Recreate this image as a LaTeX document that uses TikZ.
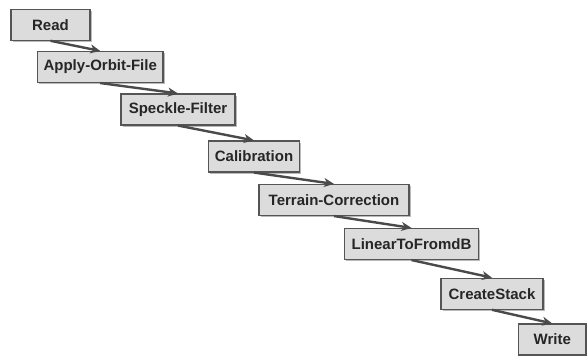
\documentclass[tikz,border=0pt]{standalone}
\usepackage{fontspec}
\setmainfont{Liberation Sans}
\usetikzlibrary{arrows.meta,shadows}
\definecolor{boxfill}{HTML}{DCDCDC}
\definecolor{boxline}{HTML}{555555}
\definecolor{arrowc}{HTML}{4A4A4A}
\definecolor{txtc}{HTML}{262626}
\begin{document}
\begin{tikzpicture}[x=1pt,y=-1pt,
  opbox/.style={draw=boxline, line width=1.1pt, fill=boxfill, minimum height=31pt,
    inner sep=0pt, text=txtc, font=\fontsize{15}{18}\selectfont\bfseries,
    drop shadow={shadow xshift=1.8pt, shadow yshift=-1.8pt, fill=black!45, opacity=0.6}},
  flow/.style={draw=arrowc, line width=2.4pt, -{Stealth[length=10pt,width=9pt,inset=3pt]}}]
\useasboundingbox (0,0) rectangle (587,356);
\node[opbox, minimum width=79pt]  (read)  at (50.5,24.75)  {Read};
\node[opbox, minimum width=125.5pt] (orbit) at (100.25,67) {Apply-Orbit-File};
\node[opbox, minimum width=114pt] (speck) at (178,109.5)  {Speckle-Filter};
\node[opbox, minimum width=91pt]  (calib) at (254,156.5)  {Calibration};
\node[opbox, minimum width=150pt] (terr)  at (334,200)    {Terrain-Correction};
\node[opbox, minimum width=134pt] (lin)   at (411.5,244)  {LinearToFromdB};
\node[opbox, minimum width=102pt] (stack) at (492,293.75) {CreateStack};
\node[opbox, minimum width=67.5pt] (write) at (552.25,339.5) {Write};
\draw[flow] (read.south)  -- (orbit.north);
\draw[flow] (orbit.south) -- (speck.north);
\draw[flow] (speck.south) -- (calib.north);
\draw[flow] (calib.south) -- (terr.north);
\draw[flow] (terr.south)  -- (lin.north);
\draw[flow] (lin.south)   -- (stack.north);
\draw[flow] (stack.south) -- (write.north);
\end{tikzpicture}
\end{document}
